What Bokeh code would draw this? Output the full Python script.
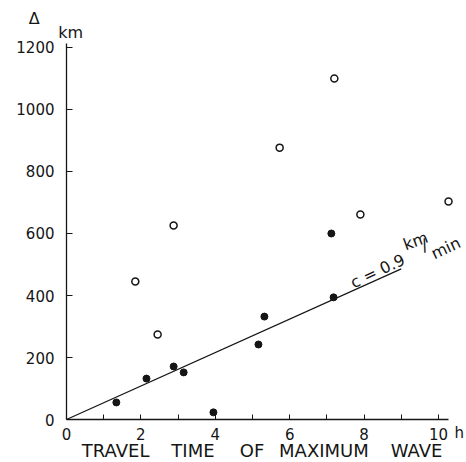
from bokeh.plotting import figure
from bokeh.models import FixedTicker, Range1d, Label
from bokeh.embed import file_html
from bokeh.resources import INLINE

# Travel time (h) vs. epicentral distance (km)
open_t = [1.85, 2.45, 2.88, 5.73, 7.20, 7.90, 10.27]
open_d = [445, 274, 626, 877, 1100, 661, 703]
filled_t = [1.34, 2.15, 2.88, 3.15, 3.95, 5.16, 5.32, 7.12, 7.18]
filled_d = [55, 132, 171, 152, 23, 242, 332, 600, 394]

# Propagation line, c = 0.9 km/min
c_km_per_min = 0.9
line_t = [0, 9]
line_d = [c_km_per_min * 60 * t for t in line_t]

x_ticks = [0, 2, 4, 6, 8, 10]
x_minor = [1, 3, 5, 7, 9]
y_ticks = [0, 200, 400, 600, 800, 1000, 1200]
title_words = ["TRAVEL", "TIME", "OF", "MAXIMUM", "WAVE"]
title_centers = [1.32, 3.40, 4.99, 6.92, 9.41]

FONT = "DejaVu Sans"
INK = "#151515"

# The frame fills the whole canvas; the axes sit at t = 0 and d = 0.
p = figure(width=466, height=462, output_backend="svg", toolbar_location=None,
           x_range=Range1d(-1.774, 10.753), y_range=Range1d(-138.7, 1351.6),
           min_border=0)
p.outline_line_color = None
p.grid.visible = False
p.background_fill_color = "white"
p.border_fill_color = "white"

xa = p.xaxis[0]
xa.fixed_location = 0
xa.ticker = FixedTicker(ticks=x_ticks, minor_ticks=x_minor)
xa.bounds = (0, 10.27)
xa.axis_line_color = INK
xa.axis_line_width = 1.3
xa.major_tick_line_color = INK
xa.major_tick_in = 5
xa.major_tick_out = 0
xa.minor_tick_line_color = INK
xa.minor_tick_in = 5
xa.minor_tick_out = 0
xa.major_label_standoff = 8
xa.major_label_text_font = FONT
xa.major_label_text_font_size = "15px"
xa.major_label_text_color = INK

ya = p.yaxis[0]
ya.fixed_location = 0
ya.ticker = FixedTicker(ticks=y_ticks)
ya.bounds = (0, 1213)
ya.axis_line_color = INK
ya.axis_line_width = 1.3
ya.major_tick_line_color = INK
ya.major_tick_in = 6
ya.major_tick_out = 0
ya.minor_tick_line_color = None
ya.major_label_standoff = 12
ya.major_label_text_font = FONT
ya.major_label_text_font_size = "15px"
ya.major_label_text_color = INK

# Data
p.line(line_t, line_d, line_color=INK, line_width=1.2)
p.scatter(filled_t, filled_d, size=7, marker="circle",
          fill_color=INK, line_color=INK, line_width=1)
p.scatter(open_t, open_d, size=7, marker="circle",
          fill_color="white", line_color=INK, line_width=1.5)

# Line annotation
p.add_layout(Label(x=7.66, y=439, text="c = 0.9", angle=0.44,
                   text_font=FONT, text_font_size="16px", text_color=INK,
                   text_baseline="alphabetic"))
p.add_layout(Label(x=9.07, y=562, text="km", angle=0.35,
                   text_font=FONT, text_font_size="16px", text_color=INK,
                   text_baseline="alphabetic"))
p.add_layout(Label(x=9.55, y=560, text="/", angle=0.35,
                   text_font=FONT, text_font_size="17px", text_color=INK,
                   text_baseline="alphabetic"))
p.add_layout(Label(x=9.83, y=532, text="min", angle=0.44,
                   text_font=FONT, text_font_size="16px", text_color=INK,
                   text_baseline="alphabetic"))

# Axis titles
p.add_layout(Label(x=-0.87, y=1293, text="\u0394", text_font=FONT,
                   text_font_size="16px", text_color=INK,
                   text_align="center", text_baseline="middle"))
p.add_layout(Label(x=0.11, y=1248, text="km", text_font=FONT,
                   text_font_size="16px", text_color=INK,
                   text_align="center", text_baseline="middle"))
p.add_layout(Label(x=10.56, y=-45, text="h", text_font=FONT,
                   text_font_size="15px", text_color=INK,
                   text_align="center", text_baseline="middle"))
for word, cx in zip(title_words, title_centers):
    p.add_layout(Label(x=cx, y=-100, text=word, text_font=FONT,
                       text_font_size="18px", text_color=INK,
                       text_align="center", text_baseline="middle"))

open("out.html", "w").write(file_html(p, INLINE))
